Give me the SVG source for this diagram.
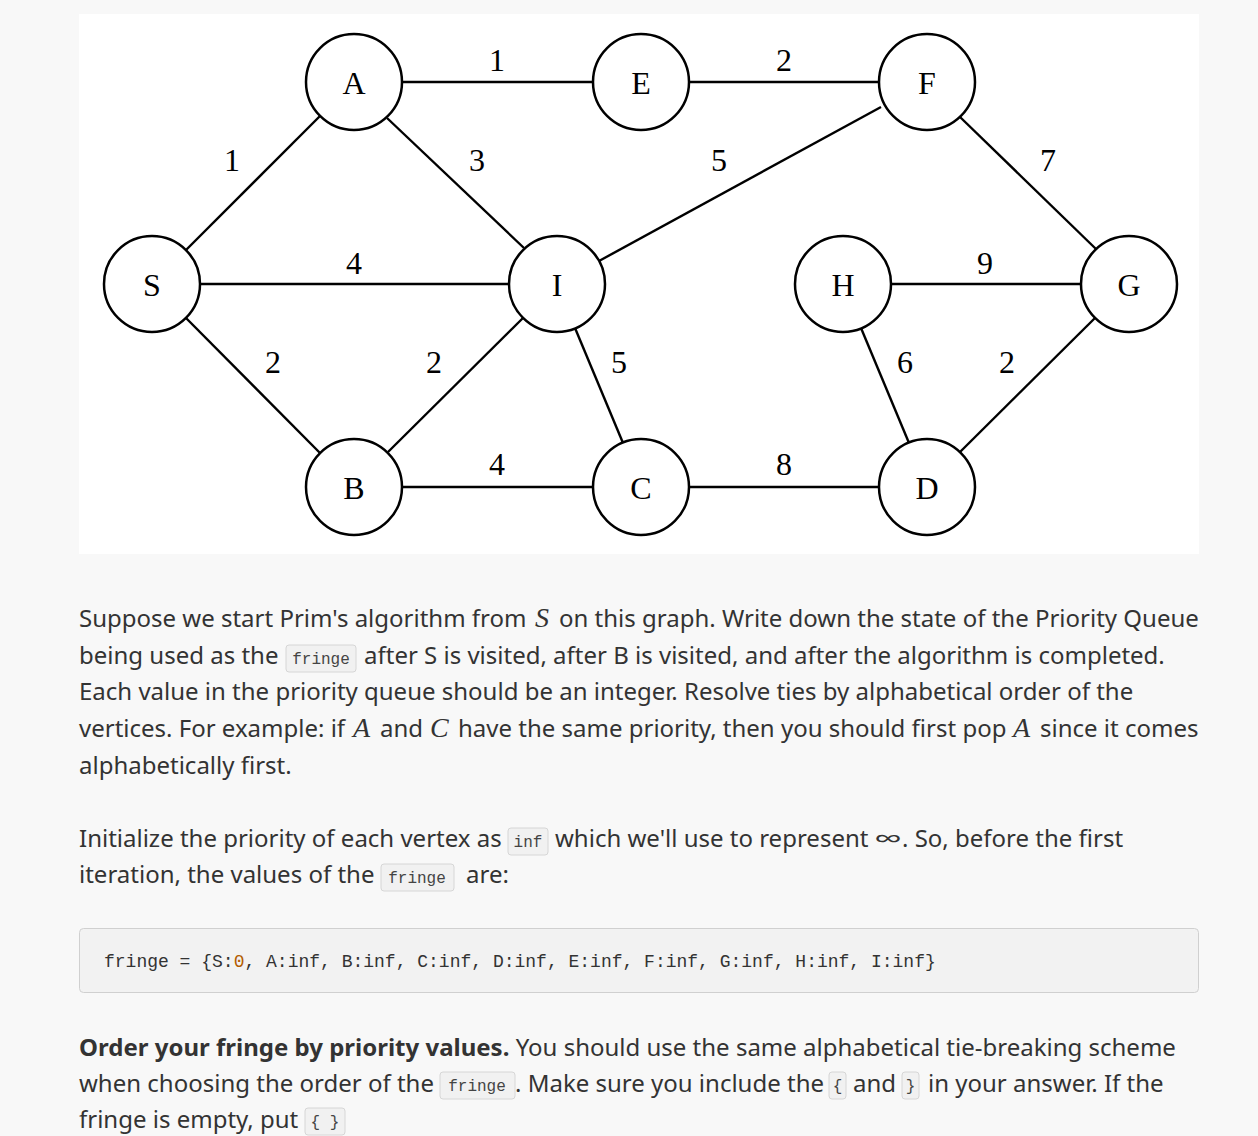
<svg xmlns="http://www.w3.org/2000/svg" width="1258" height="1136" viewBox="0 0 1258 1136">
<style>
.node circle{fill:#fff;stroke:#000;stroke-width:2.5}
.node text{font-family:"Liberation Serif","DejaVu Serif",serif;font-size:32px;text-anchor:middle;fill:#000}
.edges line{stroke:#000;stroke-width:2.4}
.lbl{font-family:"Liberation Serif","DejaVu Serif",serif;font-size:32px;text-anchor:middle;fill:#000}
.p{font-family:"Noto Sans","Open Sans",sans-serif;font-size:24px;fill:#333}
.b{font-weight:bold}
.m{font-family:"Liberation Serif","DejaVu Serif",serif;font-style:italic;font-size:28px}
.chip{fill:#f1f1f1;stroke:#d6d6d6;stroke-width:1}
.ct{font-family:"Liberation Mono","DejaVu Sans Mono",monospace;font-size:16px;fill:#444}
.code{font-family:"Liberation Mono","DejaVu Sans Mono",monospace;font-size:18px;fill:#333}
</style>
<rect width="1258" height="1136" fill="#f8f8f8"/>
<rect x="79" y="14" width="1120" height="540" fill="#fff"/>
<g class="edges">
<line x1="186" y1="250" x2="320" y2="116"/>
<line x1="402" y1="82" x2="593" y2="82"/>
<line x1="387" y1="118" x2="524" y2="248"/>
<line x1="200" y1="284" x2="509" y2="284"/>
<line x1="186" y1="318" x2="320" y2="453"/>
<line x1="388" y1="452" x2="523" y2="318"/>
<line x1="575" y1="328" x2="623" y2="443"/>
<line x1="402" y1="487" x2="593" y2="487"/>
<line x1="689" y1="82" x2="879" y2="82"/>
<line x1="599" y1="261" x2="881" y2="107"/>
<line x1="960" y1="117" x2="1096" y2="249"/>
<line x1="891" y1="284" x2="1081" y2="284"/>
<line x1="861" y1="328" x2="909" y2="443"/>
<line x1="960" y1="452" x2="1095" y2="318"/>
<line x1="689" y1="487" x2="879" y2="487"/>
</g>
<g class="lbl">
<text class="lbl" x="232" y="171">1</text>
<text class="lbl" x="497" y="71">1</text>
<text class="lbl" x="477" y="171">3</text>
<text class="lbl" x="354" y="274">4</text>
<text class="lbl" x="273" y="373">2</text>
<text class="lbl" x="434" y="373">2</text>
<text class="lbl" x="619" y="373">5</text>
<text class="lbl" x="497" y="475">4</text>
<text class="lbl" x="784" y="71">2</text>
<text class="lbl" x="719" y="171">5</text>
<text class="lbl" x="1048" y="171">7</text>
<text class="lbl" x="985" y="274">9</text>
<text class="lbl" x="905" y="373">6</text>
<text class="lbl" x="1007" y="373">2</text>
<text class="lbl" x="784" y="475">8</text>
</g>
<g id="node-S" class="node"><circle cx="152" cy="284" r="48"/><text x="152" y="296">S</text></g>
<g id="node-A" class="node"><circle cx="354" cy="82" r="48"/><text x="354" y="94">A</text></g>
<g id="node-B" class="node"><circle cx="354" cy="487" r="48"/><text x="354" y="499">B</text></g>
<g id="node-I" class="node"><circle cx="557" cy="284" r="48"/><text x="557" y="296">I</text></g>
<g id="node-E" class="node"><circle cx="641" cy="82" r="48"/><text x="641" y="94">E</text></g>
<g id="node-C" class="node"><circle cx="641" cy="487" r="48"/><text x="641" y="499">C</text></g>
<g id="node-H" class="node"><circle cx="843" cy="284" r="48"/><text x="843" y="296">H</text></g>
<g id="node-F" class="node"><circle cx="927" cy="82" r="48"/><text x="927" y="94">F</text></g>
<g id="node-D" class="node"><circle cx="927" cy="487" r="48"/><text x="927" y="499">D</text></g>
<g id="node-G" class="node"><circle cx="1129" cy="284" r="48"/><text x="1129" y="296">G</text></g>

<g id="para1">
<text class="p" x="79" y="627">Suppose we start Prim's algorithm from</text>
<text class="p m" x="535" y="627">S</text>
<text class="p" x="559" y="627">on this graph. Write down the state of the Priority Queue</text>
<text class="p" x="79" y="664">being used as the</text>
<rect class="chip" x="286" y="645" width="70" height="27" rx="3"/>
<text class="ct" x="321" y="664" text-anchor="middle">fringe</text>
<text class="p" x="364" y="664">after S is visited, after B is visited, and after the algorithm is completed.</text>
<text class="p" x="79" y="700">Each value in the priority queue should be an integer. Resolve ties by alphabetical order of the</text>
<text class="p" x="79" y="737">vertices. For example: if</text>
<text class="p m" x="353" y="737">A</text>
<text class="p" x="380" y="737">and</text>
<text class="p m" x="430" y="737">C</text>
<text class="p" x="458" y="737">have the same priority, then you should first pop</text>
<text class="p m" x="1013" y="737">A</text>
<text class="p" x="1040" y="737">since it comes</text>
<text class="p" x="79" y="774">alphabetically first.</text>
</g>
<g id="para2">
<text class="p" x="79" y="847">Initialize the priority of each vertex as</text>
<rect class="chip" x="508" y="828" width="40" height="27" rx="3"/>
<text class="ct" x="528" y="847" text-anchor="middle">inf</text>
<text class="p" x="555" y="847">which we'll use to represent</text>
<text class="p" x="874" y="847" font-family="'Liberation Serif',serif" font-size="40" textLength="28" lengthAdjust="spacingAndGlyphs">∞</text>
<text class="p" x="902" y="847">. So, before the first</text>
<text class="p" x="79" y="883">iteration, the values of the</text>
<rect class="chip" x="381" y="864" width="73" height="27" rx="3"/>
<text class="ct" x="417" y="883" text-anchor="middle">fringe</text>
<text class="p" x="466" y="883">are:</text>
</g>
<g id="codeblock">
<rect x="79.5" y="928.5" width="1119" height="64" rx="4" fill="#f2f2f2" stroke="#d0d0d0"/>
<text class="code" x="104" y="967">fringe = {S:<tspan fill="#b35c00">0</tspan>, A:inf, B:inf, C:inf, D:inf, E:inf, F:inf, G:inf, H:inf, I:inf}</text>
</g>
<g id="para3">
<text class="p" x="79" y="1056"><tspan class="b">Order your fringe by priority values.</tspan> You should use the same alphabetical tie-breaking scheme</text>
<text class="p" x="79" y="1092">when choosing the order of the</text>
<rect class="chip" x="440" y="1072" width="75" height="27" rx="3"/>
<text class="ct" x="477" y="1091" text-anchor="middle">fringe</text>
<text class="p" x="515" y="1092">. Make sure you include the</text>
<rect class="chip" x="829" y="1072" width="17" height="27" rx="3"/>
<text class="ct" x="837.5" y="1091" text-anchor="middle">{</text>
<text class="p" x="853" y="1092">and</text>
<rect class="chip" x="902" y="1072" width="17" height="27" rx="3"/>
<text class="ct" x="910.5" y="1091" text-anchor="middle">}</text>
<text class="p" x="928" y="1092">in your answer. If the</text>
<text class="p" x="79" y="1128">fringe is empty, put</text>
<rect class="chip" x="305" y="1108" width="40" height="27" rx="3"/>
<text class="ct" x="325" y="1127" text-anchor="middle">{ }</text>
</g>
</svg>
